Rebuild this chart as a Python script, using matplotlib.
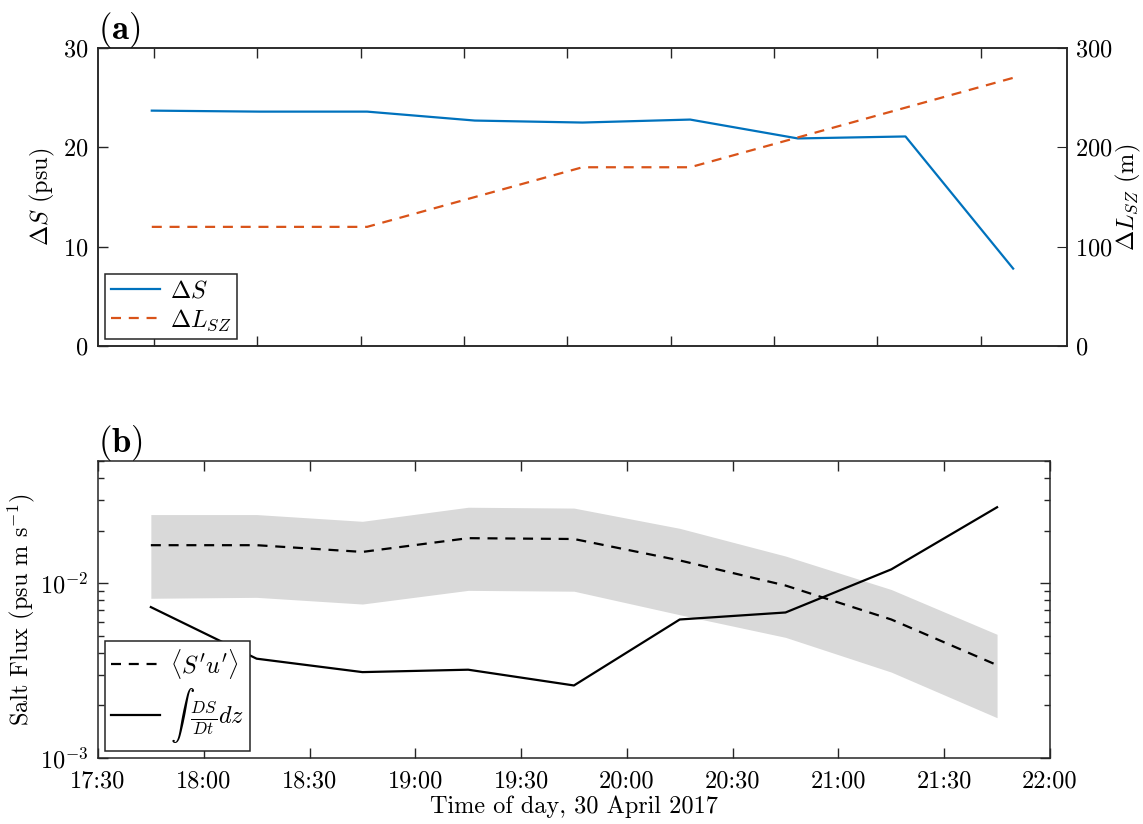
import numpy as np
import matplotlib
matplotlib.use('Agg')
import matplotlib.pyplot as plt
from matplotlib.ticker import FixedLocator, NullFormatter, LogLocator

plt.rcParams['font.family'] = 'serif'
plt.rcParams['font.serif'] = ['cmr10']
plt.rcParams['mathtext.fontset'] = 'cm'
plt.rcParams['axes.formatter.use_mathtext'] = True
plt.rcParams['axes.edgecolor'] = '#262626'
plt.rcParams['axes.linewidth'] = 1.1

# sample times (half-hour bins)
times = ['17:45', '18:15', '18:45', '19:15', '19:45', '20:15', '20:45', '21:15', '21:45']
hrs = np.array([int(t[:2]) + int(t[3:]) / 60 for t in times])

# panel (a)
dS = [23.7, 23.6, 23.6, 22.7, 22.5, 22.8, 20.9, 21.1, 7.8]          # psu
dL = [120, 120, 120, 150, 180, 180, 210, 240, 270]                   # m

# panel (b)
flux = [0.0165, 0.0165, 0.0151, 0.0181, 0.0179, 0.0135, 0.0097, 0.0062, 0.0034]
flux_hi = [0.0247, 0.0247, 0.0226, 0.0272, 0.0269, 0.0206, 0.0143, 0.0092, 0.0051]
flux_lo = [0.0082, 0.0083, 0.0076, 0.0091, 0.0090, 0.0066, 0.0049, 0.0031, 0.0017]
dsdt = [0.0073, 0.0037, 0.0031, 0.0032, 0.0026, 0.0062, 0.0068, 0.0120, 0.0272]

xlabels = ['17:30', '18:00', '18:30', '19:00', '19:30', '20:00', '20:30', '21:00', '21:30', '22:00']
xticks = [int(t[:2]) + int(t[3:]) / 60 for t in xlabels]

blue = '#0072BD'
orange = '#D95319'
fs = 17.5

fig = plt.figure(figsize=(11.43, 8.24), dpi=100)
ax1 = fig.add_axes([0.0857, 0.580, 0.8478, 0.3617])
ax2 = fig.add_axes([0.0857, 0.0801, 0.8329, 0.3604])

def style(ax):
    ax.tick_params(which='both', direction='in', top=True, right=True,
                   labelsize=fs, color='#262626', width=1.0, pad=7)
    ax.tick_params(which='major', length=7)
    ax.tick_params(which='minor', length=4.5)

# ---- (a) salinity difference and salt-wedge length ----
l1, = ax1.plot(hrs, dS, color=blue, lw=1.6, label=r'$\Delta S$')
ax1.set_xlim(17.5, 22.0)
ax1.set_ylim(0, 30)
ax1.set_yticks([0, 10, 20, 30])
# ticks every 0.02 day
ax1.set_xticks(np.arange(0.74, 0.905, 0.02) * 24)
ax1.xaxis.set_major_formatter(NullFormatter())
ax1.set_ylabel(r'$\Delta S$ (psu)', fontsize=fs, labelpad=4)
style(ax1)
ax1.tick_params(right=False)

ax1r = ax1.twinx()
l2, = ax1r.plot(hrs, dL, color=orange, lw=1.6, ls=(0, (4.5, 3.5)), label=r'$\Delta L_{SZ}$')
ax1r.set_ylim(0, 300)
ax1r.set_yticks([0, 100, 200, 300])
ax1r.set_ylabel(r'$\Delta L_{SZ}$ (m)', fontsize=fs, labelpad=1)
ax1r.tick_params(direction='in', length=7, labelsize=fs, color='#262626', pad=6)

leg = ax1.legend(handles=[l1, l2], loc='lower left', fontsize=fs, fancybox=False,
                 edgecolor='#262626', framealpha=1, handlelength=2.0,
                 borderpad=0.25, labelspacing=0.2, handletextpad=0.4,
                 borderaxespad=0.3)
leg.get_frame().set_linewidth(1.1)
fig.text(0.086, 0.953, r'$\mathbf{(a)}$', fontsize=25)

# ---- (b) salt flux ----
ax2.fill_between(hrs, flux_lo, flux_hi, color='#d9d9d9', lw=0)
p1, = ax2.plot(hrs, flux, color='k', lw=1.6, ls=(0, (4.5, 3.5)), label=r"$\langle S'u'\rangle$")
p2, = ax2.plot(hrs, dsdt, color='k', lw=1.6, label=r'$\int\ \frac{DS}{Dt}dz$')
ax2.set_yscale('log')
ax2.set_ylim(1e-3, 0.05)
ax2.set_xlim(17.5, 22.0)
ax2.set_xticks(xticks)
ax2.set_xticklabels(xlabels)
ax2.yaxis.set_major_locator(FixedLocator([1e-3, 1e-2]))
ax2.yaxis.set_minor_locator(LogLocator(base=10, subs=np.arange(2, 10)))
ax2.yaxis.set_minor_formatter(NullFormatter())
ax2.set_ylabel(r'Salt Flux (psu m s$^{\mathregular{-1}}$)', fontsize=fs, labelpad=2)
ax2.set_xlabel('Time of day, 30 April 2017', fontsize=fs, labelpad=2)
style(ax2)
ax2.tick_params(axis='x', pad=9)

leg2 = ax2.legend(handles=[p1, p2], loc='lower left', fontsize=fs, fancybox=False,
                  edgecolor='#262626', framealpha=1, handlelength=2.0,
                  borderpad=0.25, labelspacing=0.2, handletextpad=0.4,
                  borderaxespad=0.3)
leg2.get_frame().set_linewidth(1.1)
fig.text(0.086, 0.452, r'$\mathbf{(b)}$', fontsize=25)

fig.savefig('out.png', dpi=100, facecolor='white')
